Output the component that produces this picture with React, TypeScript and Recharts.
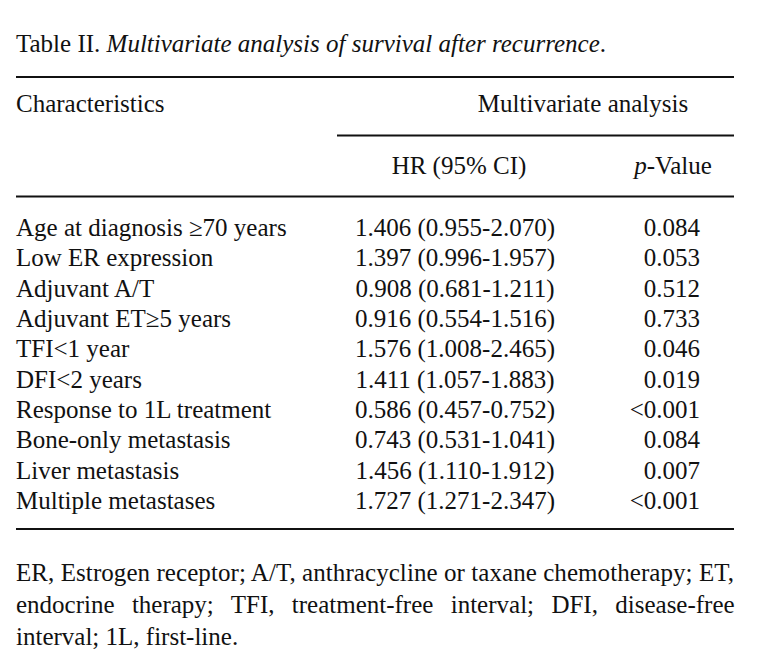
import { BarChart, Bar, XAxis, YAxis, Customized } from 'recharts';

// table content
const characteristics = [
  'Age at diagnosis ≥70 years',
  'Low ER expression',
  'Adjuvant A/T',
  'Adjuvant ET≥5 years',
  'TFI<1 year',
  'DFI<2 years',
  'Response to 1L treatment',
  'Bone-only metastasis',
  'Liver metastasis',
  'Multiple metastases',
];

const hazardRatios = [
  '1.406 (0.955-2.070)',
  '1.397 (0.996-1.957)',
  '0.908 (0.681-1.211)',
  '0.916 (0.554-1.516)',
  '1.576 (1.008-2.465)',
  '1.411 (1.057-1.883)',
  '0.586 (0.457-0.752)',
  '0.743 (0.531-1.041)',
  '1.456 (1.110-1.912)',
  '1.727 (1.271-2.347)',
];

const pValues = ['0.084', '0.053', '0.512', '0.733', '0.046', '0.019', '<0.001', '0.084', '0.007', '<0.001'];

const footnoteLines = [
  'ER, Estrogen receptor; A/T, anthracycline or taxane chemotherapy; ET,',
  'endocrine therapy; TFI, treatment-free interval; DFI, disease-free',
  'interval; 1L, first-line.',
];

const rows = characteristics.map((name, i) => ({
  name,
  hr: hazardRatios[i],
  p: pValues[i],
  slot: 1,
}));

const FONT = '"Liberation Serif", "Times New Roman", serif';
const INK = '#111';

function RowTick(props: any) {
  const { y, index, payload } = props;
  const row = rows.find(r => r.name === payload?.value) ?? rows[index];
  if (!row) return null;
  const base = y + 8;
  return (
    <g fontFamily={FONT} fontSize={25} fill={INK}>
      <text x={16} y={base} textAnchor="start">{row.name}</text>
      <text x={455} y={base} textAnchor="middle">{row.hr}</text>
      <text x={700} y={base} textAnchor="end">{row.p}</text>
    </g>
  );
}

function TableFrame() {
  return (
    <g fontFamily={FONT} fontSize={25} fill={INK}>
      <text x={16} y={52}>
        Table II. <tspan fontStyle="italic">Multivariate analysis of survival after recurrence</tspan>.
      </text>
      <line x1={16} x2={734} y1={77} y2={77} stroke={INK} strokeWidth={1.8} />
      <text x={16} y={112}>Characteristics</text>
      <text x={583} y={112} textAnchor="middle">Multivariate analysis</text>
      <line x1={337} x2={734} y1={135.5} y2={135.5} stroke={INK} strokeWidth={1.8} />
      <text x={459} y={174} textAnchor="middle">HR (95% CI)</text>
      <text x={673} y={174} textAnchor="middle">
        <tspan fontStyle="italic">p</tspan>-Value
      </text>
      <line x1={16} x2={734} y1={196.5} y2={196.5} stroke={INK} strokeWidth={1.8} />
      <line x1={16} x2={734} y1={529} y2={529} stroke={INK} strokeWidth={1.8} />
      <text x={16} y={581} textLength={718} lengthAdjust="spacing">{footnoteLines[0]}</text>
      <text x={16} y={613} wordSpacing={11.1}>{footnoteLines[1]}</text>
      <text x={16} y={645}>{footnoteLines[2]}</text>
    </g>
  );
}

export default function App() {
  return (
    <div style={{ position: 'absolute', left: 0, top: 0, background: '#fff' }}>
      <BarChart
        width={757}
        height={651}
        data={rows}
        layout="vertical"
        margin={{ top: 213, right: 0, bottom: 135, left: 0 }}
      >
        <XAxis type="number" domain={[0, 1]} hide />
        <YAxis
          type="category"
          dataKey="name"
          width={1}
          axisLine={false}
          tickLine={false}
          interval={0}
          tick={(p: any) => <RowTick {...p} />}
        />
        <Bar dataKey="slot" fill="none" isAnimationActive={false} />
        <Customized component={TableFrame} />
      </BarChart>
    </div>
  );
}
